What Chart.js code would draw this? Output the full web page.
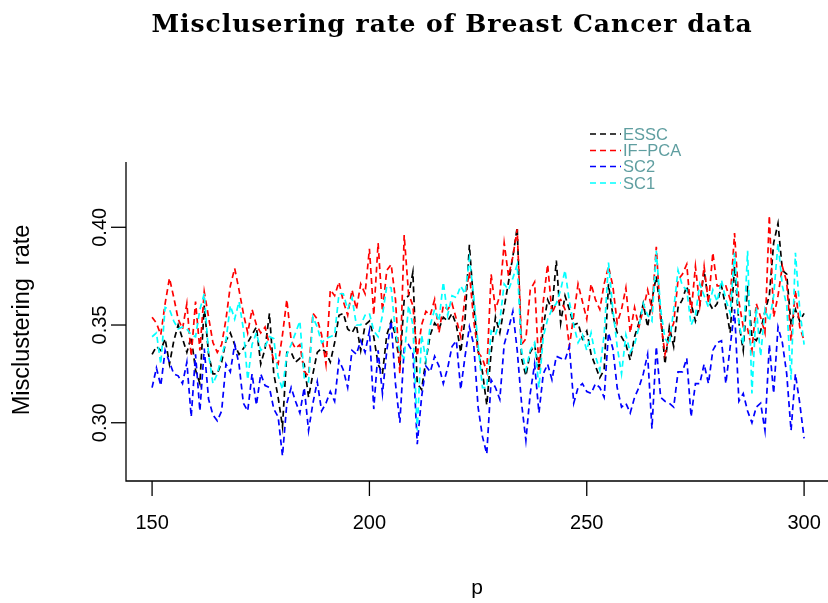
<!DOCTYPE html>
<html lang="en">
<head>
<meta charset="utf-8">
<title>Misclusering rate of Breast Cancer data</title>
<script src="https://cdn.jsdelivr.net/npm/chart.js"></script>
<style>
  html, body { margin: 0; padding: 0; background: #ffffff; }
  #wrap { position: relative; width: 828px; height: 603px; }
</style>
</head>
<body>
<div id="wrap"><canvas id="chart" width="828" height="603"></canvas></div>
<script>
// p runs from 150 to 300, one value per p
const pStart = 150;

const essc = [
  0.335, 0.339, 0.337, 0.343, 0.330, 0.342, 0.350, 0.343, 0.336, 0.344,
  0.327, 0.320, 0.360, 0.335, 0.325, 0.325, 0.331, 0.342, 0.346, 0.340,
  0.335, 0.338, 0.341, 0.345, 0.349, 0.330, 0.338, 0.356, 0.325, 0.313,
  0.298, 0.336, 0.336, 0.331, 0.333, 0.330, 0.313, 0.325, 0.336, 0.338,
  0.336, 0.331, 0.341, 0.355, 0.356, 0.348, 0.346, 0.350, 0.337, 0.350,
  0.352, 0.344, 0.330, 0.325, 0.345, 0.352, 0.345, 0.329, 0.363, 0.365,
  0.377, 0.320, 0.317, 0.332, 0.345, 0.351, 0.348, 0.354, 0.352, 0.356,
  0.350, 0.336, 0.353, 0.391, 0.360, 0.337, 0.326, 0.309, 0.336, 0.354,
  0.346, 0.359, 0.372, 0.385, 0.400, 0.333, 0.324, 0.336, 0.340, 0.326,
  0.349, 0.363, 0.358, 0.383, 0.351, 0.365, 0.358, 0.350, 0.351, 0.343,
  0.347, 0.335, 0.329, 0.323, 0.327, 0.371, 0.355, 0.346, 0.344, 0.340,
  0.332, 0.344, 0.351, 0.361, 0.349, 0.363, 0.375, 0.356, 0.330, 0.349,
  0.339, 0.359, 0.363, 0.370, 0.361, 0.352, 0.360, 0.378, 0.362, 0.358,
  0.361, 0.370, 0.359, 0.346, 0.380, 0.351, 0.337, 0.370, 0.344, 0.342,
  0.347, 0.357, 0.365, 0.392, 0.402, 0.378, 0.376, 0.350, 0.358, 0.352,
  0.356
];

const ifpca = [
  0.354, 0.351, 0.345, 0.361, 0.374, 0.364, 0.353, 0.348, 0.361, 0.334,
  0.362, 0.337, 0.367, 0.354, 0.341, 0.336, 0.340, 0.353, 0.370, 0.379,
  0.368, 0.356, 0.346, 0.358, 0.350, 0.346, 0.349, 0.340, 0.332, 0.330,
  0.345, 0.363, 0.342, 0.338, 0.340, 0.326, 0.324, 0.356, 0.353, 0.345,
  0.330, 0.368, 0.365, 0.372, 0.362, 0.355, 0.368, 0.358, 0.371, 0.366,
  0.389, 0.355, 0.392, 0.357, 0.378, 0.381, 0.363, 0.325, 0.396, 0.366,
  0.360, 0.334, 0.350, 0.357, 0.355, 0.363, 0.346, 0.360, 0.358, 0.361,
  0.353, 0.344, 0.365, 0.377, 0.352, 0.336, 0.333, 0.326, 0.376, 0.358,
  0.365, 0.392, 0.375, 0.385, 0.399, 0.340, 0.343, 0.368, 0.372, 0.327,
  0.362, 0.381, 0.356, 0.361, 0.363, 0.358, 0.339, 0.355, 0.371, 0.362,
  0.353, 0.371, 0.363, 0.358, 0.371, 0.380, 0.370, 0.351, 0.358, 0.369,
  0.346, 0.359, 0.349, 0.358, 0.368, 0.358, 0.390, 0.352, 0.335, 0.345,
  0.351, 0.373, 0.376, 0.381, 0.356, 0.380, 0.360, 0.380, 0.361, 0.387,
  0.370, 0.370, 0.370, 0.363, 0.397, 0.362, 0.349, 0.348, 0.337, 0.361,
  0.354, 0.346, 0.406, 0.354, 0.365, 0.380, 0.372, 0.342, 0.368, 0.349,
  0.342
];

const sc2 = [
  0.318, 0.328, 0.319, 0.337, 0.331, 0.325, 0.324, 0.320, 0.331, 0.303,
  0.335, 0.306, 0.338, 0.312, 0.304, 0.301, 0.306, 0.330, 0.326, 0.340,
  0.330, 0.310, 0.306, 0.325, 0.309, 0.325, 0.319, 0.318, 0.307, 0.303,
  0.283, 0.310, 0.318, 0.311, 0.305, 0.318, 0.296, 0.310, 0.321, 0.306,
  0.310, 0.316, 0.311, 0.332, 0.327, 0.318, 0.337, 0.335, 0.342, 0.336,
  0.347, 0.307, 0.337, 0.315, 0.337, 0.352, 0.320, 0.300, 0.338, 0.340,
  0.336, 0.289, 0.313, 0.329, 0.326, 0.334, 0.329, 0.320, 0.328, 0.339,
  0.342, 0.317, 0.334, 0.349, 0.340, 0.308, 0.293, 0.284, 0.322, 0.318,
  0.312, 0.340, 0.348, 0.357, 0.337, 0.310, 0.291, 0.315, 0.330, 0.305,
  0.325, 0.330, 0.322, 0.334, 0.333, 0.332, 0.339, 0.310, 0.318, 0.320,
  0.316, 0.315, 0.320, 0.318, 0.313, 0.346, 0.338, 0.318, 0.308, 0.310,
  0.305, 0.313, 0.318, 0.325, 0.335, 0.297, 0.339, 0.313, 0.311, 0.310,
  0.308, 0.326, 0.326, 0.333, 0.303, 0.320, 0.320, 0.330, 0.320, 0.337,
  0.341, 0.342, 0.320, 0.339, 0.358, 0.311, 0.315, 0.306, 0.300, 0.308,
  0.310, 0.296, 0.340, 0.315, 0.349, 0.341, 0.325, 0.296, 0.325, 0.310,
  0.292
];

const sc1 = [
  0.344, 0.346, 0.330, 0.359, 0.358, 0.352, 0.348, 0.349, 0.348, 0.345,
  0.344, 0.358, 0.366, 0.335, 0.320, 0.325, 0.334, 0.342, 0.360, 0.353,
  0.362, 0.348, 0.322, 0.340, 0.346, 0.337, 0.339, 0.344, 0.343, 0.324,
  0.317, 0.335, 0.340, 0.346, 0.352, 0.323, 0.321, 0.354, 0.349, 0.341,
  0.343, 0.344, 0.345, 0.366, 0.366, 0.358, 0.364, 0.350, 0.350, 0.355,
  0.356, 0.347, 0.344, 0.355, 0.370, 0.369, 0.346, 0.336, 0.333, 0.360,
  0.350, 0.296, 0.345, 0.332, 0.350, 0.358, 0.352, 0.372, 0.355, 0.365,
  0.364, 0.370, 0.366, 0.384, 0.365, 0.340, 0.318, 0.318, 0.347, 0.345,
  0.352, 0.371, 0.368, 0.374, 0.381, 0.337, 0.327, 0.337, 0.341, 0.318,
  0.344, 0.353, 0.358, 0.361, 0.368, 0.378, 0.362, 0.350, 0.341, 0.345,
  0.337, 0.346, 0.334, 0.327, 0.345, 0.382, 0.358, 0.339, 0.325, 0.345,
  0.336, 0.340, 0.349, 0.361, 0.355, 0.352, 0.388, 0.358, 0.343, 0.340,
  0.358, 0.378, 0.370, 0.368, 0.350, 0.355, 0.371, 0.365, 0.359, 0.368,
  0.362, 0.373, 0.363, 0.356, 0.387, 0.351, 0.340, 0.388, 0.315, 0.359,
  0.334, 0.358, 0.352, 0.365, 0.392, 0.370, 0.360, 0.322, 0.387, 0.358,
  0.340
];

const seriesNames = ['ESSC', 'IF\u2212PCA', 'SC2', 'SC1'];
const seriesColors = ['#000000', '#ff0000', '#0000ff', '#00ffff'];
const xTicks = [150, 200, 250, 300];
const yTicks = [0.30, 0.35, 0.40];
const yTickLabels = ['0.30', '0.35', '0.40'];

function toPoints(values) {
    return values.map((v, i) => ({ x: pStart + i, y: v }));
}

const allSeries = [essc, ifpca, sc2, sc1];

// Achsen, Titel und Legende im R-Stil selbst zeichnen
const rAxes = {
    id: 'rAxes',
    afterDraw(chart) {
        const ctx = chart.ctx;
        const xs = chart.scales.x;
        const ys = chart.scales.y;
        const area = chart.chartArea;
        ctx.save();
        ctx.strokeStyle = '#000';
        ctx.fillStyle = '#000';
        ctx.lineWidth = 1.3;

        // L-box
        ctx.beginPath();
        ctx.moveTo(area.left, area.top);
        ctx.lineTo(area.left, area.bottom);
        ctx.lineTo(area.right, area.bottom);
        ctx.stroke();

        ctx.font = '20px "Liberation Sans", Arial, sans-serif';
        ctx.textAlign = 'center';
        ctx.textBaseline = 'middle';

        xTicks.forEach(t => {
            const px = xs.getPixelForValue(t);
            ctx.beginPath();
            ctx.moveTo(px, area.bottom);
            ctx.lineTo(px, area.bottom + 15);
            ctx.stroke();
            ctx.fillText(String(t), px, 523);
        });

        yTicks.forEach((t, i) => {
            const py = ys.getPixelForValue(t);
            ctx.beginPath();
            ctx.moveTo(area.left, py);
            ctx.lineTo(area.left - 15, py);
            ctx.stroke();
            ctx.save();
            ctx.translate(100, py);
            ctx.rotate(-Math.PI / 2);
            ctx.fillText(yTickLabels[i], 0, 0);
            ctx.restore();
        });

        // Achsentitel
        ctx.font = '21px "Liberation Sans", Arial, sans-serif';
        ctx.fillText('p', (area.left + area.right) / 2, 588);
        ctx.save();
        ctx.translate(23, 320);
        ctx.rotate(-Math.PI / 2);
        ctx.font = '23.5px "Liberation Sans", Arial, sans-serif';
        ctx.fillText('Misclustering  rate', 0, 0);
        ctx.restore();

        // Titel
        ctx.font = 'bold 25px "DejaVu Serif", "Liberation Serif", serif';
        ctx.letterSpacing = '1px';
        ctx.fillText('Misclusering rate of Breast Cancer data', 452, 25);
        ctx.letterSpacing = '0px';

        // Legende
        ctx.font = '16.5px "Liberation Sans", Arial, sans-serif';
        ctx.textAlign = 'left';
        const legendY = [134, 150.5, 166.5, 183];
        seriesNames.forEach((name, i) => {
            ctx.strokeStyle = seriesColors[i];
            ctx.lineWidth = 1.6;
            ctx.setLineDash([6, 4]);
            ctx.beginPath();
            ctx.moveTo(590, legendY[i]);
            ctx.lineTo(621, legendY[i]);
            ctx.stroke();
            ctx.setLineDash([]);
            ctx.fillStyle = '#5f9ea0';
            ctx.fillText(name, 623, legendY[i] + 1);
        });
        ctx.restore();
    }
};

new Chart(document.getElementById('chart'), {
    type: 'line',
    data: {
        datasets: allSeries.map((vals, i) => ({
            label: seriesNames[i],
            data: toPoints(vals),
            borderColor: seriesColors[i],
            borderWidth: 1.7,
            borderDash: [6, 4],
            pointRadius: 0,
            tension: 0,
            fill: false,
            order: 4 - i
        }))
    },
    options: {
        responsive: false,
        animation: false,
        layout: { padding: { left: 126, right: 0, top: 162, bottom: 122 } },
        plugins: {
            legend: { display: false },
            title: { display: false },
            tooltip: { enabled: false }
        },
        scales: {
            x: { type: 'linear', min: 144, max: 305.5, display: false },
            y: { type: 'linear', min: 0.2702, max: 0.4334, display: false }
        }
    },
    plugins: [rAxes]
});
</script>
</body>
</html>
